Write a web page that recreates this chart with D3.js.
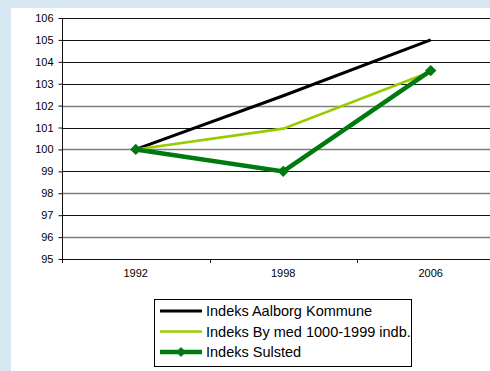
<!DOCTYPE html>
<html><head><meta charset="utf-8">
<script src="https://cdn.jsdelivr.net/npm/d3@7"></script>
<style>
html,body{margin:0;padding:0;background:#d7e7f2;}
svg{display:block;}
svg text{font-family:"Liberation Sans",Arial,sans-serif;}
</style></head>
<body>
<script>
const years = ["1992", "1998", "2006"];
const aalborg = [100, 102.45, 105.0];
const byMed = [100, 100.95, 103.55];
const sulsted = [100, 99.0, 103.6];
const seriesNames = ["Indeks Aalborg Kommune", "Indeks By med 1000-1999 indb.", "Indeks Sulsted"];
const yTicks = [95, 96, 97, 98, 99, 100, 101, 102, 103, 104, 105, 106];

const W = 490, H = 371;
const svg = d3.select("body").append("svg").attr("width", W).attr("height", H);
svg.append("rect").attr("x", 0).attr("y", 0).attr("width", W).attr("height", H).attr("fill", "#d7e7f2");
svg.append("rect").attr("x", 11).attr("y", 8).attr("width", W - 11).attr("height", H - 8).attr("fill", "#fff");

const x0 = 62, x1 = 504.5, yTop = 18, yBot = 259;
const x = d3.scaleBand().domain(years).range([x0, x1]);
const y = d3.scaleLinear().domain([95, 106]).range([yBot, yTop]);
const isGray = d => d % 2 === 0 && d <= 102;

// gridlines
svg.append("g").selectAll("line").data(yTicks.filter(v => v !== 95)).join("line")
  .attr("x1", x0).attr("x2", x1)
  .attr("y1", d => Math.round(y(d)) + 0.5).attr("y2", d => Math.round(y(d)) + 0.5)
  .attr("stroke", d => isGray(d) ? "#7f7f7f" : "#111")
  .attr("stroke-width", d => isGray(d) ? 1.6 : 1);

// y axis
const yAxis = d3.axisLeft(y).tickValues(yTicks).tickSize(4).tickPadding(5).tickFormat(d3.format("d"));
const gy = svg.append("g").attr("transform", `translate(${x0 + 0.5},0)`).call(yAxis);
gy.attr("font-family", null);
gy.select(".domain").attr("stroke", "#111").attr("d", `M-0,${yTop}V${yBot}`);
gy.selectAll(".tick line").attr("stroke", "#111");
gy.selectAll("text").attr("font-size", 11).attr("fill", "#000");

// x axis
const xTickPos = years.map(d => x(d)).concat([x1]);
const gx = svg.append("g");
gx.append("line").attr("x1", x0).attr("x2", x1).attr("y1", yBot + 0.5).attr("y2", yBot + 0.5).attr("stroke", "#111").attr("stroke-width", 1.2);
gx.selectAll("line.t").data(xTickPos).join("line").attr("class", "t")
  .attr("x1", d => Math.round(d) + 0.5).attr("x2", d => Math.round(d) + 0.5)
  .attr("y1", yBot).attr("y2", yBot + 4).attr("stroke", "#111");
gx.selectAll("text").data(years).join("text")
  .attr("x", d => x(d) + x.bandwidth() / 2).attr("y", yBot + 18)
  .attr("text-anchor", "middle").attr("font-size", 11).attr("fill", "#000").text(d => d);

const cx = d => x(d) + x.bandwidth() / 2;
const line = d3.line().x((d, i) => cx(years[i])).y(d => y(d));

const styles = [
  {data: aalborg, color: "#000000", w: 3},
  {data: byMed, color: "#99cc00", w: 2.6},
  {data: sulsted, color: "#007a10", w: 4.5}
];
styles.forEach(s => {
  svg.append("path").datum(s.data).attr("d", line).attr("fill", "none")
    .attr("stroke", s.color).attr("stroke-width", s.w).attr("stroke-linejoin", "miter");
});
svg.append("g").selectAll("path").data(sulsted).join("path")
  .attr("transform", (d, i) => `translate(${cx(years[i])},${y(d)}) rotate(45)`)
  .attr("d", d3.symbol().type(d3.symbolSquare).size(64))
  .attr("fill", "#007a10");

// legend
const lg = svg.append("g");
lg.append("rect").attr("x", 154.5).attr("y", 299.5).attr("width", 257).attr("height", 67)
  .attr("fill", "#fff").attr("stroke", "#000").attr("stroke-width", 1);
seriesNames.forEach((name, i) => {
  const yy = 311 + i * 20.5;
  lg.append("line").attr("x1", 160).attr("x2", 202).attr("y1", yy).attr("y2", yy)
    .attr("stroke", styles[i].color).attr("stroke-width", styles[i].w);
  if (i === 2) {
    lg.append("path").attr("transform", `translate(181,${yy}) rotate(45)`)
      .attr("d", d3.symbol().type(d3.symbolSquare).size(50)).attr("fill", styles[i].color);
  }
  lg.append("text").attr("x", 206).attr("y", yy + 5).attr("font-size", 14.5).attr("fill", "#000").text(name);
});
</script>
</body></html>
